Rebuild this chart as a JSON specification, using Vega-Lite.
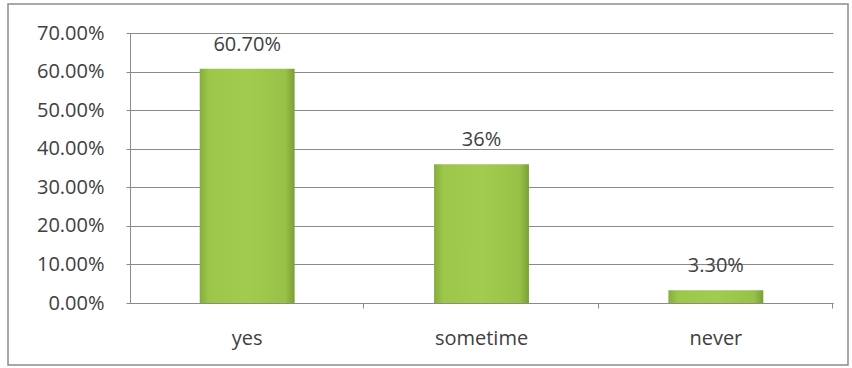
{
  "$schema": "https://vega.github.io/schema/vega-lite/v6.json",
  "autosize": {"type": "none"},
  "padding": {"left": 8, "top": 4, "right": 4, "bottom": 3},
  "width": 840,
  "height": 361,
  "background": "white",
  "config": {
    "view": {"stroke": "#8c8c8c", "strokeWidth": 1.5},
    "font": "Open Sans"
  },
  "data": {
    "values": [
      {"answer": "yes", "share": 0.607, "label": "60.70%"},
      {"answer": "sometime", "share": 0.36, "label": "36%"},
      {"answer": "never", "share": 0.033, "label": "3.30%"}
    ]
  },
  "encoding": {
    "x": {
      "field": "answer",
      "type": "nominal",
      "sort": null,
      "scale": {"range": [122, 825], "paddingInner": 0.595, "paddingOuter": 0.2975},
      "axis": {
        "title": null,
        "labelAngle": 0,
        "offset": -62,
        "domainColor": "#8a8a8a",
        "tickColor": "#8a8a8a",
        "tickSize": 5,
        "bandPosition": 1.73,
        "labelOffset": 0,
        "labelPadding": 20,
        "labelFontSize": 20,
        "labelColor": "#404040",
        "labelFont": "Open Sans"
      }
    },
    "y": {
      "field": "share",
      "type": "quantitative",
      "scale": {"domain": [0, 0.7], "range": [299, 29], "nice": false},
      "axis": {
        "title": null,
        "format": ".2%",
        "values": [0, 0.1, 0.2, 0.3, 0.4, 0.5, 0.6, 0.7],
        "offset": -122,
        "domainColor": "#8a8a8a",
        "tickColor": "#8a8a8a",
        "tickSize": 4,
        "gridColor": "#8a8a8a",
        "grid": true,
        "labelPadding": 22,
        "labelFontSize": 20,
        "labelColor": "#404040",
        "labelFont": "Open Sans"
      }
    }
  },
  "layer": [
    {
      "mark": {
        "type": "bar",
        "color": {
          "gradient": "linear",
          "x1": 0, "y1": 0, "x2": 1, "y2": 0,
          "stops": [
            {"offset": 0, "color": "#86ad3c"},
            {"offset": 0.1, "color": "#9cc74a"},
            {"offset": 0.5, "color": "#a2cc4f"},
            {"offset": 0.9, "color": "#98c247"},
            {"offset": 1, "color": "#7b9f35"}
          ]
        }
      }
    },
    {
      "mark": {"type": "text", "dy": -24, "fontSize": 20, "color": "#404040", "font": "Open Sans"},
      "encoding": {"text": {"field": "label"}}
    }
  ]
}
